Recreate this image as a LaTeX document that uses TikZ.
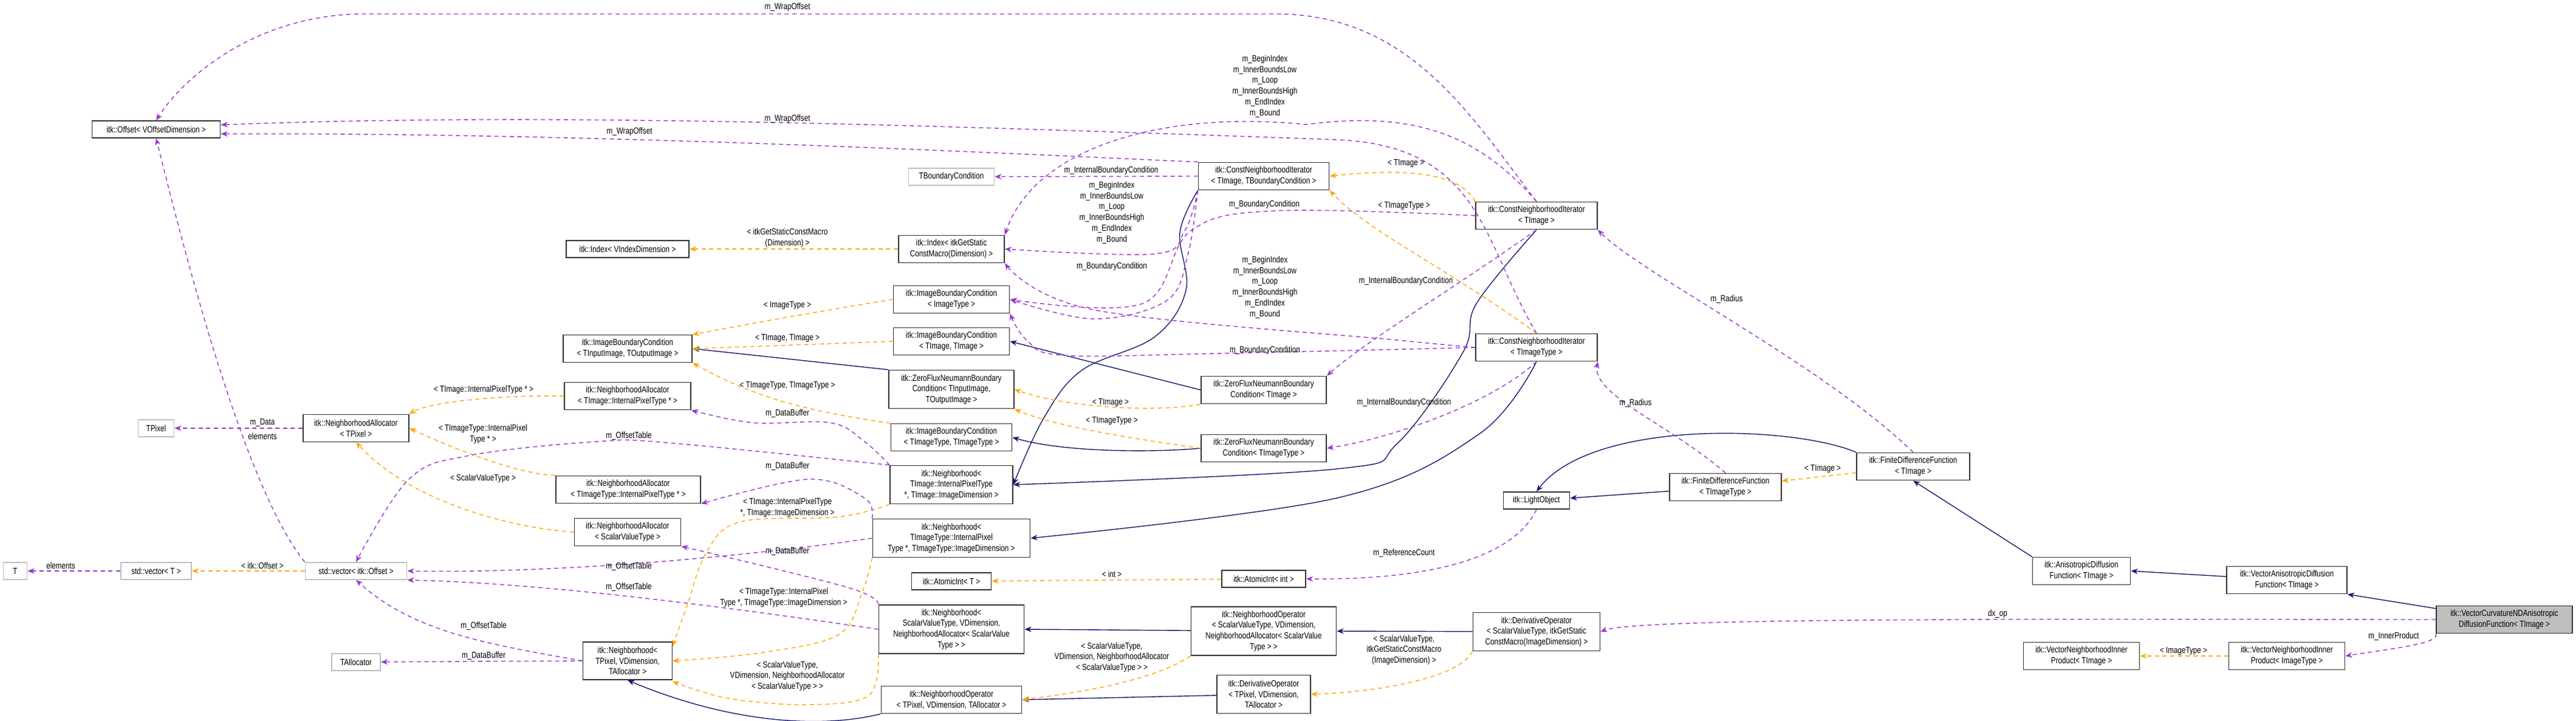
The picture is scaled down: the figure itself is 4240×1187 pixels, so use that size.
\documentclass[tikz,border=0pt]{standalone}
\usepackage{fontspec}
\setmainfont[FakeStretch=0.8]{Liberation Sans}
\usetikzlibrary{arrows.meta}

\definecolor{usecol}{HTML}{9A32CD}
\definecolor{tplcol}{HTML}{FFA500}
\definecolor{inhcol}{HTML}{191970}

\tikzset{
  cls/.style 2 args={draw=black!80, fill=white, line width=0.6pt, align=center, inner sep=1pt,
    minimum width=#1*0.3557pt, minimum height=#2*0.3557pt, font=\fontsize{5.2}{6.3}\selectfont},
  ext/.style 2 args={cls={#1}{#2}, draw=black!25},
  lbl/.style={align=center, inner sep=0pt, font=\fontsize{5.2}{6.3}\selectfont},
  use/.style={draw=usecol, dashed, dash pattern=on 2.5pt off 2pt, line width=0.5pt, -{Stealth[length=4pt,width=3.2pt]}},
  tpl/.style={draw=tplcol, dashed, dash pattern=on 2.5pt off 2pt, line width=0.5pt, -{Stealth[length=4pt,width=3.2pt]}},
  inh/.style={draw=inhcol, line width=0.5pt, -{Stealth[length=4pt,width=3.2pt]}},
}

\begin{document}
\begin{tikzpicture}[x=0.0125cm, y=-0.0125cm]
\useasboundingbox (0,0) rectangle (4240,1187);

% classes
\node[cls={211}{28}] (off) at (257,213) {itk::Offset< VOffsetDimension >};
\node[ext={59}{28}] (tpix) at (257,705) {TPixel};
\node[cls={174}{45}] (nat) at (586,705) {itk::NeighborhoodAllocator\\< TPixel >};
\node[ext={39}{28}] (tt) at (25,940) {T};
\node[ext={116}{28}] (vect) at (257,940) {std::vector< T >};
\node[ext={167}{28}] (veco) at (586,940) {std::vector< itk::Offset >};
\node[ext={80}{28}] (talloc) at (586,1090) {TAllocator};
\node[cls={147}{62}] (nbp) at (1033,1088) {itk::Neighborhood<\\ TPixel, VDimension,\\ TAllocator >};
\node[cls={208}{45}] (naimg) at (1033,652) {itk::NeighborhoodAllocator\\< TImage::InternalPixelType * >};
\node[cls={238}{45}] (naimt) at (1034,806) {itk::NeighborhoodAllocator\\< TImageType::InternalPixelType * >};
\node[cls={175}{45}] (nasv) at (1033,876) {itk::NeighborhoodAllocator\\< ScalarValueType >};
\node[cls={212}{45}] (ibcio) at (1033,574) {itk::ImageBoundaryCondition\\< TInputImage, TOutputImage >};
\node[cls={202}{28}] (idxv) at (1033,410) {itk::Index< VIndexDimension >};
\node[ext={141}{28}] (tbc) at (1566,291) {TBoundaryCondition};
\node[cls={174}{45}] (idxg) at (1566,410) {itk::Index< itkGetStatic\\ConstMacro(Dimension) >};
\node[cls={191}{45}] (ibcit) at (1566,493) {itk::ImageBoundaryCondition\\< ImageType >};
\node[cls={191}{45}] (ibcii) at (1566,562) {itk::ImageBoundaryCondition\\< TImage, TImage >};
\node[cls={215}{45}] (cnib) at (2080,290) {itk::ConstNeighborhoodIterator\\< TImage, TBoundaryCondition >};
\node[cls={206}{63}] (zfnio) at (1566,641) {itk::ZeroFluxNeumannBoundary\\Condition< TInputImage,\\ TOutputImage >};
\node[cls={199}{45}] (ibctt) at (1566,720) {itk::ImageBoundaryCondition\\< TImageType, TImageType >};
\node[cls={202}{63}] (nbi) at (1566,798) {itk::Neighborhood<\\ TImage::InternalPixelType\\ *, TImage::ImageDimension >};
\node[cls={259}{63}] (nbt) at (1566,886) {itk::Neighborhood<\\ TImageType::InternalPixel\\ Type *, TImageType::ImageDimension >};
\node[cls={131}{28}] (ait) at (1566,957) {itk::AtomicInt< T >};
\node[cls={239}{80}] (nbs) at (1566,1036) {itk::Neighborhood<\\ ScalarValueType, VDimension,\\ NeighborhoodAllocator< ScalarValue\\ Type > >};
\node[cls={231}{45}] (nop) at (1566,1152) {itk::NeighborhoodOperator\\< TPixel, VDimension, TAllocator >};
\node[cls={206}{45}] (zfni) at (2080,642) {itk::ZeroFluxNeumannBoundary\\Condition< TImage >};
\node[cls={206}{45}] (zfnt) at (2080,738) {itk::ZeroFluxNeumannBoundary\\Condition< TImageType >};
\node[cls={138}{28}] (aii) at (2080,953) {itk::AtomicInt< int >};
\node[cls={239}{80}] (nops) at (2080,1039) {itk::NeighborhoodOperator\\< ScalarValueType, VDimension,\\ NeighborhoodAllocator< ScalarValue\\ Type > >};
\node[cls={154}{63}] (dopt) at (2080,1143) {itk::DerivativeOperator\\< TPixel, VDimension,\\ TAllocator >};
\node[cls={200}{45}] (cnii) at (2529,355) {itk::ConstNeighborhoodIterator\\< TImage >};
\node[cls={200}{45}] (cnit) at (2529,572) {itk::ConstNeighborhoodIterator\\< TImageType >};
\node[cls={109}{28}] (lo) at (2529,824) {itk::LightObject};
\node[cls={184}{45}] (fdft) at (2840,802) {itk::FiniteDifferenceFunction\\< TImageType >};
\node[cls={186}{45}] (fdfi) at (3149,768) {itk::FiniteDifferenceFunction\\< TImage >};
\node[cls={161}{45}] (adf) at (3426,940) {itk::AnisotropicDiffusion\\Function< TImage >};
\node[cls={198}{45}] (vadf) at (3764,955) {itk::VectorAnisotropicDiffusion\\Function< TImage >};
\node[cls={224}{45}, fill=black!25] (vcnd) at (4122,1020) {itk::VectorCurvatureNDAnisotropic\\DiffusionFunction< TImage >};
\node[cls={191}{45}] (vnipi) at (3426,1080) {itk::VectorNeighborhoodInner\\Product< TImage >};
\node[cls={191}{45}] (vnipt) at (3764,1080) {itk::VectorNeighborhoodInner\\Product< ImageType >};
\node[cls={209}{63}] (dops) at (2529,1040) {itk::DerivativeOperator\\< ScalarValueType, itkGetStatic\\ConstMacro(ImageDimension) >};

% inheritance
\draw[inh] (vcnd) -- (vadf.south east);
\draw[inh] (vadf) -- (adf.east);
\draw[inh] (adf.north west) -- (fdfi.south);
\draw[inh] (fdft) -- (lo);
\draw[inh] (fdfi.north west) .. controls (2950,700) and (2620,690) .. (lo.north);
\draw[inh] (dops) -- (nops.east);
\draw[inh] (dopt) -- (nop.east);
\draw[inh] (nops) -- (nbs.east);
\draw[inh] (nop.south west) .. controls (1350,1200) and (1200,1190) .. (nbp.south);
\draw[inh] (zfnio.north west) -- (ibcio.east);
\draw[inh] (zfni.west) -- (ibcii.east);
\draw[inh] (zfnt.west) .. controls (1900,745) and (1750,745) .. (ibctt.east);
\draw[inh] plot[smooth, tension=0.6] coordinates {(cnib.south west) (1942,383) (1952,478) (1900,555) (1780,610) (1717,690) (nbi.east)};
\draw[inh] plot[smooth, tension=0.6] coordinates {(cnii.south) (2430,500) (2408,580) (2300,730) (2200,772) (nbi.east)};
\draw[inh] plot[smooth, tension=0.6] coordinates {(cnit.south) (2434,715) (2200,820) (nbt.east)};

% templates
\draw[tpl] (veco) -- (vect);
\draw[tpl] (naimg.west) .. controls (800,650) and (700,665) .. (nat.north east);
\draw[tpl] (naimt.north west) .. controls (850,780) and (750,740) .. (nat.east);
\draw[tpl] (nasv.west) .. controls (850,870) and (680,830) .. (nat.south);
\draw[tpl] (idxg) -- (idxv);
\draw[tpl] (ibcit.west) .. controls (1300,520) and (1200,540) .. (ibcio.north east);
\draw[tpl] (ibcii.west) -- (ibcio.east);
\draw[tpl] (ibctt.north west) .. controls (1350,680) and (1250,660) .. (ibcio.south east);
\draw[tpl] (zfni.south west) .. controls (1900,680) and (1750,670) .. (zfnio.east);
\draw[tpl] (zfnt.west) .. controls (1850,720) and (1730,700) .. (zfnio.south east);
\draw[tpl] (cnii.north west) .. controls (2400,280) and (2300,278) .. (cnib.east);
\draw[tpl] (cnit.north) .. controls (2380,440) and (2250,380) .. (cnib.south east);
\draw[tpl] (aii) -- (ait);
\draw[tpl] (fdfi) -- (fdft);
\draw[tpl] (vnipt) -- (vnipi);
\draw[tpl] (dops.south west) .. controls (2400,1120) and (2250,1140) .. (dopt.east);
\draw[tpl] (nops.south west) .. controls (1900,1120) and (1780,1140) .. (nop.east);
\draw[tpl] plot[smooth, tension=0.6] coordinates {(nbi.south west) (1381,851) (1219,859) (1163,909) (1130,1000) (1107,1064)};
\draw[tpl] plot[smooth, tension=0.6] coordinates {(nbt.south west) (1419,975) (1380,1045) (1250,1075) (1107,1088)};
\draw[tpl] plot[smooth, tension=0.6] coordinates {(nbs.south west) (1430,1145) (1331,1160) (1200,1150) (1107,1122)};

% usage
\draw[use] (nat) -- (tpix);
\draw[use] (vect) -- (tt);
\draw[use] (veco.north west) .. controls (400,800) and (300,400) .. (off.south);
\draw[use] (cnii.north) .. controls (2420,190) and (2320,23) .. (2100,23) -- (600,23) .. controls (420,23) and (300,130) .. (off.north);
\draw[use] (cnit.north) .. controls (2440,400) and (2440,240) .. (2200,230) .. controls (1500,205) and (900,185) .. (off.4);
\draw[use] (cnib.north west) .. controls (1700,255) and (1000,218) .. (off.-4);
\draw[use] (cnib.west) -- (tbc);
\draw[use] (cnii.north) .. controls (2440,230) and (2340,180) .. (2150,205) .. controls (1900,180) and (1700,250) .. (idxg.north east);
\draw[use] plot[smooth, tension=0.6] coordinates {(cnib.south west) (1950,380) (1900,418) (idxg.east)};
\draw[use] plot[smooth, tension=0.6] coordinates {(cnit.west) (2300,560) (1800,510) (idxg.south east)};
\draw[use] plot[smooth, tension=0.6] coordinates {(cnii.west) (2100,347) (1960,380) (1880,500) (ibcit.east)};
\draw[use] plot[smooth, tension=0.6] coordinates {(cnib.south west) (1955,420) (1920,495) (1800,525) (ibcit.east)};
\draw[use] plot[smooth, tension=0.6] coordinates {(cnit.west) (2000,582) (1750,585) (1690,560) (ibcit.south east)};
\draw[use] (cnii.south) .. controls (2400,470) and (2250,560) .. (zfni.north east);
\draw[use] (cnit.south) .. controls (2460,660) and (2300,720) .. (zfnt.east);
\draw[use] (fdft.north) .. controls (2750,700) and (2620,650) .. (cnit.south east);
\draw[use] (fdfi.north) .. controls (3000,600) and (2700,450) .. (cnii.south east);
\draw[use] (lo.south) .. controls (2490,920) and (2350,955) .. (aii.east);
\draw[use] (vcnd.west) .. controls (3500,1020) and (2700,1015) .. (dops.east);
\draw[use] (vcnd.south west) .. controls (4020,1060) and (3920,1070) .. (vnipt.east);
\draw[use] plot[smooth, tension=0.6] coordinates {(nbi.north west) (1100,729) (982,727) (772,750) (673,789) (veco.north)};
\draw[use] (nbt.west) .. controls (1200,920) and (900,944) .. (veco.east);
\draw[use] (nbs.west) .. controls (1200,1000) and (900,960) .. (veco.south east);
\draw[use] (nbp.west) .. controls (800,1060) and (680,1040) .. (veco.south);
\draw[use] (nbp.west) -- (talloc);
\draw[use] plot[smooth, tension=0.6] coordinates {(nbi.north west) (1423,727) (1367,696) (1240,696) (naimg.south east)};
\draw[use] plot[smooth, tension=0.6] coordinates {(nbt.north west) (1423,820) (1331,789) (naimt.south east)};
\draw[use] plot[smooth, tension=0.6] coordinates {(nbs.north west) (1395,967) (nasv.south east)};

% labels
\node[lbl] (l1) at (1296,12) {m\_WrapOffset};
\node[lbl] (l2) at (1296,196) {m\_WrapOffset};
\node[lbl] (l3) at (1036,217) {m\_WrapOffset};
\node[lbl] (l4) at (2082,142) {m\_BeginIndex\\m\_InnerBoundsLow\\m\_Loop\\m\_InnerBoundsHigh\\m\_EndIndex\\m\_Bound};
\node[lbl] (l5) at (1830,350) {m\_BeginIndex\\m\_InnerBoundsLow\\m\_Loop\\m\_InnerBoundsHigh\\m\_EndIndex\\m\_Bound};
\node[lbl] (l6) at (2082,473) {m\_BeginIndex\\m\_InnerBoundsLow\\m\_Loop\\m\_InnerBoundsHigh\\m\_EndIndex\\m\_Bound};
\node[lbl] (l7) at (1829,281) {m\_InternalBoundaryCondition};
\node[lbl] (l8) at (2081,337) {m\_BoundaryCondition};
\node[lbl] (l9) at (1830,439) {m\_BoundaryCondition};
\node[lbl] (l10) at (2082,577) {m\_BoundaryCondition};
\node[lbl] (l11) at (2314,269) {< TImage >};
\node[lbl] (l12) at (2311,339) {< TImageType >};
\node[lbl] (l13) at (2314,463) {m\_InternalBoundaryCondition};
\node[lbl] (l14) at (2311,663) {m\_InternalBoundaryCondition};
\node[lbl] (l15) at (2692,664) {m\_Radius};
\node[lbl] (l16) at (2842,493) {m\_Radius};
\node[lbl] (l17) at (3000,772) {< TImage >};
\node[lbl] (l18) at (2311,911) {m\_ReferenceCount};
\node[lbl] (l19) at (3288,1011) {dx\_op};
\node[lbl] (l20) at (3940,1048) {m\_InnerProduct};
\node[lbl] (l21) at (3594,1072) {< ImageType >};
\node[lbl] (l22) at (2311,1070) {< ScalarValueType,\\itkGetStaticConstMacro\\(ImageDimension) >};
\node[lbl] (l23) at (1830,1082) {< ScalarValueType,\\VDimension, NeighborhoodAllocator\\< ScalarValueType > >};
\node[lbl] (l24) at (1830,945) {< int >};
\node[lbl] (l25) at (1828,663) {< TImage >};
\node[lbl] (l26) at (1830,693) {< TImageType >};
\node[lbl] (l27) at (1296,392) {< itkGetStaticConstMacro\\(Dimension) >};
\node[lbl] (l28) at (1296,503) {< ImageType >};
\node[lbl] (l29) at (1296,557) {< TImage, TImage >};
\node[lbl] (l30) at (1296,635) {< TImageType, TImageType >};
\node[lbl] (l31) at (1296,681) {m\_DataBuffer};
\node[lbl] (l32) at (1296,768) {m\_DataBuffer};
\node[lbl] (l33) at (1296,908) {m\_DataBuffer};
\node[lbl] (l34) at (1296,836) {< TImage::InternalPixelType\\*, TImage::ImageDimension >};
\node[lbl] (l35) at (1290,984) {< TImageType::InternalPixel\\Type *, TImageType::ImageDimension >};
\node[lbl] (l36) at (1296,1113) {< ScalarValueType,\\VDimension, NeighborhoodAllocator\\< ScalarValueType > >};
\node[lbl] (l37) at (1035,718) {m\_OffsetTable};
\node[lbl] (l38) at (1035,933) {m\_OffsetTable};
\node[lbl] (l39) at (1035,967) {m\_OffsetTable};
\node[lbl] (l40) at (796,1031) {m\_OffsetTable};
\node[lbl] (l41) at (796,1080) {m\_DataBuffer};
\node[lbl] (l42) at (432,696) {m\_Data};
\node[lbl] (l43) at (432,718) {elements};
\node[lbl] (l44) at (100,931) {elements};
\node[lbl] (l45) at (432,931) {< itk::Offset >};
\node[lbl] (l46) at (796,642) {< TImage::InternalPixelType * >};
\node[lbl] (l47) at (795,715) {< TImageType::InternalPixel\\Type * >};
\node[lbl] (l48) at (795,788) {< ScalarValueType >};
\end{tikzpicture}
\end{document}
